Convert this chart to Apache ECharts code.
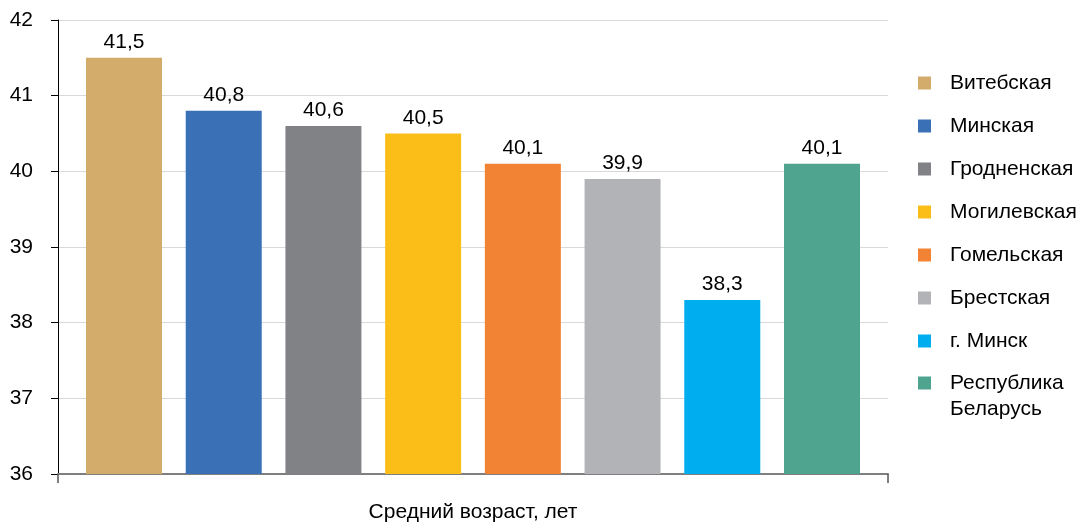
<!DOCTYPE html>
<html>
<head>
<meta charset="utf-8">
<script src="https://cdn.jsdelivr.net/npm/echarts@6/dist/echarts.min.js"></script>
<style>
  html, body { margin: 0; padding: 0; background: #fff; }
  #chart { width: 1080px; height: 524px; }
</style>
</head>
<body>
<div id="chart"></div>
<script>
const categories = ['Средний возраст, лет'];
const regions = ['Витебская', 'Минская', 'Гродненская', 'Могилевская', 'Гомельская', 'Брестская', 'г. Минск', 'Республика Беларусь'];
const values = [41.5, 40.8, 40.6, 40.5, 40.1, 39.9, 38.3, 40.1];
const colors = ['#D3AB6A', '#3A70B6', '#818286', '#FBBE19', '#F28234', '#B2B3B7', '#00AEEF', '#4FA48F'];
const yTicks = { min: 36, max: 42, interval: 1 };

const FONT = 'Liberation Sans, Arial, sans-serif';
const FS = 21;
const chart = echarts.init(document.getElementById('chart'));

const series = regions.map((name, i) => ({
  name: name,
  type: 'bar',
  data: [values[i]],
  barWidth: 76,
  barGap: '31.2%',
  itemStyle: { color: colors[i] },
  label: {
    show: true,
    position: 'top',
    distance: 5,
    color: '#000',
    fontFamily: FONT,
    fontSize: FS,
    formatter: p => String(p.value).replace('.', ',')
  }
}));

const lastName = regions[regions.length - 1];
// leading empty line keeps the icon level with the first text line
const legendFormatter = name => '\n' + name.replace(' ', '\n');

chart.setOption({
  animation: false,
  backgroundColor: '#fff',
  grid: { left: 58, top: 20, width: 830, height: 454, containLabel: false },
  xAxis: {
    type: 'category',
    data: categories,
    axisLine: { lineStyle: { color: '#7f7f7f', width: 2 } },
    axisTick: { show: true, length: 9, lineStyle: { color: '#555', width: 1.5 } },
    axisLabel: { color: '#000', fontFamily: FONT, fontSize: FS, margin: 28 }
  },
  yAxis: {
    type: 'value',
    min: yTicks.min,
    max: yTicks.max,
    interval: yTicks.interval,
    axisLine: { show: true, lineStyle: { color: '#000', width: 1 } },
    axisTick: { show: true, length: 7, lineStyle: { color: '#000' } },
    axisLabel: { color: '#000', fontFamily: FONT, fontSize: FS, margin: 25 },
    splitLine: { lineStyle: { color: '#D9D9D9', width: 1 } }
  },
  legend: [
    {
      orient: 'vertical',
      left: 913,
      top: 66,
      padding: 5,
      itemWidth: 13,
      itemHeight: 13,
      itemGap: 19,
      icon: 'rect',
      selectedMode: false,
      data: regions.slice(0, regions.length - 1),
      textStyle: { color: '#000', fontFamily: FONT, fontSize: FS, lineHeight: 24, padding: [0, 0, 0, 14] }
    },
    {
      orient: 'vertical',
      left: 913,
      top: 339,
      padding: 5,
      itemWidth: 13,
      itemHeight: 13,
      icon: 'rect',
      selectedMode: false,
      data: [lastName],
      formatter: legendFormatter,
      textStyle: { color: '#000', fontFamily: FONT, fontSize: FS, lineHeight: 26, padding: [0, 0, 0, 14] }
    }
  ],
  series: series
});
</script>
</body>
</html>
